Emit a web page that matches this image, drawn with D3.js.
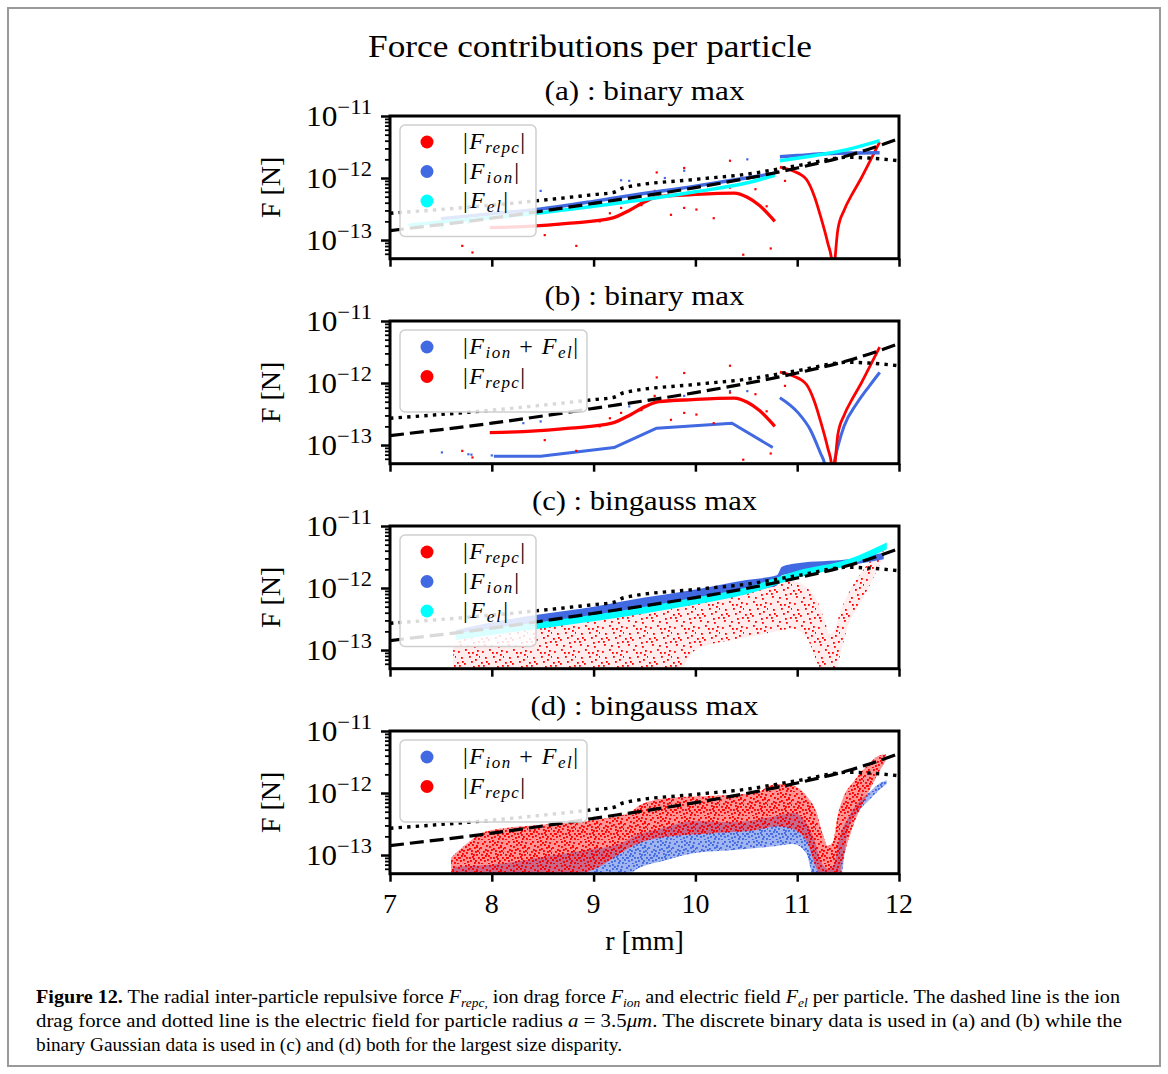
<!DOCTYPE html>
<html><head><meta charset="utf-8">
<script src="https://cdn.jsdelivr.net/npm/d3@7"></script>
<style>body{margin:0;background:#fff}svg{display:block}</style>
</head><body>
<svg id="c" width="1168" height="1074"></svg>
<script>
// ---------------- DATA ----------------
const figTitle = "Force contributions per particle";
const panelTitles = ["(a) : binary max", "(b) : binary max", "(c) : bingauss max", "(d) : bingauss max"];
const xTicks = [7, 8, 9, 10, 11, 12];
const yMajor = [1e-11, 1e-12, 1e-13];
const yMajorExp = ["\u221211", "\u221212", "\u221213"];
const yMinor = [6e-14, 7e-14, 8e-14, 9e-14, 2e-13, 3e-13, 4e-13, 5e-13, 6e-13, 7e-13, 8e-13, 9e-13,
                2e-12, 3e-12, 4e-12, 5e-12, 6e-12, 7e-12, 8e-12, 9e-12];

// theory lines (all panels)
const dashR = [7, 8, 9, 10, 11, 11.5, 12];
const dashF = [1.42e-13, 2.25e-13, 3.9e-13, 7.0e-13, 1.45e-12, 2.3e-12, 4.3e-12];
const dotR = [7, 8, 9, 9.2, 9.3, 10, 10.5, 11, 11.5, 11.7, 12];
const dotF = [2.7e-13, 3.65e-13, 5.4e-13, 5.9e-13, 7.0e-13, 9.5e-13, 1.15e-12, 1.58e-12, 2.16e-12, 2.1e-12, 1.9e-12];

// |F_repc| (binary, panels a & b)
const repcR1 = [7.98, 8.31, 8.77, 9.18, 9.35, 9.51, 9.64, 9.97, 10.38, 10.51, 10.63, 10.78];
const repcF1 = [1.58e-13, 1.65e-13, 1.87e-13, 2.25e-13, 3.0e-13, 4.2e-13, 5.0e-13, 5.4e-13, 5.7e-13, 4.9e-13, 3.6e-13, 2.0e-13];
const repcR2 = [10.83, 10.96, 11.09, 11.17, 11.23, 11.30, 11.34, 11.355, 11.37, 11.40, 11.46, 11.54, 11.63, 11.71, 11.81];
const repcF2 = [1.5e-12, 1.3e-12, 9.5e-13, 5.0e-13, 2.4e-13, 9e-14, 4.5e-14, 2e-14, 4.5e-14, 1.5e-13, 3.0e-13, 5.5e-13, 1.0e-12, 1.8e-12, 3.8e-12];
const repcOutR = [7.71, 7.81, 8.11, 8.52, 8.83, 9.06, 9.16, 9.27, 9.47, 9.60, 9.62, 9.76, 9.89, 9.89, 10.01, 10.18, 10.34, 10.34, 10.47, 10.59, 10.70, 10.74, 10.88];
const repcOutF = [8.05e-14, 6.3e-14, 1.6e-13, 1.2e-13, 8.05e-14, 2.0e-13, 2.7e-13, 3.3e-13, 3.65e-13, 6.2e-13, 1.23e-12, 2.55e-13, 3.3e-13, 1.45e-12, 3.1e-13, 2.25e-13, 7.0e-13, 1.9e-12, 5.8e-14, 6.6e-13, 3.5e-13, 7.3e-14, 9.0e-13];

// |F_ion| and |F_el| (binary, panel a)
const ionR1 = [7.5, 8.0, 8.44, 9.0, 9.35, 10.0, 10.5, 10.78];
const ionF1 = [2.2e-13, 2.65e-13, 3.1e-13, 4.2e-13, 5.2e-13, 7.4e-13, 1.0e-12, 1.18e-12];
const ionR2 = [10.83, 11.0, 11.4, 11.81];
const ionF2 = [2.2e-12, 2.3e-12, 2.5e-12, 2.55e-12];
const ionOutR = [8.48, 9.27, 9.35, 9.70, 9.89, 10.51];
const ionOutF = [6.2e-13, 9.2e-13, 9e-13, 1.0e-12, 1.31e-12, 2.0e-12];
const elR1 = [7.2, 7.5, 8.0, 8.44, 9.0, 9.5, 10.0, 10.5, 10.78];
const elF1 = [1.75e-13, 1.95e-13, 2.3e-13, 2.7e-13, 3.5e-13, 4.5e-13, 6.0e-13, 8.3e-13, 1.11e-12];
const elR2 = [10.83, 11.2, 11.5, 11.81];
const elF2 = [1.9e-12, 2.35e-12, 2.9e-12, 4.0e-12];
const elOutR = [7.19, 7.51, 7.77];
const elOutF = [1.75e-13, 1.6e-13, 1.87e-13];

// |F_ion + F_el| (binary, panel b)
const sumR1 = [8.02, 8.48, 9.20, 9.62, 10.36, 10.76];
const sumF1 = [6.6e-14, 6.6e-14, 9.1e-14, 1.87e-13, 2.25e-13, 9.1e-14];
const sumR2 = [10.83, 11.01, 11.13, 11.23, 11.27, 11.31, 11.36, 11.40, 11.46, 11.59, 11.71, 11.81];
const sumF2 = [5.8e-13, 3.3e-13, 1.75e-13, 7.3e-14, 5e-14, 2e-14, 5e-14, 9.5e-14, 2.0e-13, 4.8e-13, 9e-13, 1.48e-12];
const sumOutR = [7.51, 7.77, 7.80, 8.00, 8.31, 8.48, 9.35, 9.89, 10.34, 10.51];
const sumOutF = [7.6e-14, 7.1e-14, 7.0e-14, 6.8e-14, 2.25e-13, 2.4e-13, 4.2e-13, 6.2e-13, 7.4e-13, 7.4e-13];

// bingauss clouds (panel c): r, lower edge, upper edge
const cElR  = [7.65, 8.0, 8.5, 9.0, 9.5, 10.0, 10.5, 11.0, 11.5, 11.88];
const cElLo = [1.45e-13, 1.75e-13, 2.25e-13, 2.9e-13, 3.9e-13, 5.4e-13, 7.9e-13, 1.45e-12, 2.3e-12, 4.2e-12];
const cElHi = [1.85e-13, 2.25e-13, 2.85e-13, 3.7e-13, 5.0e-13, 7.0e-13, 1.02e-12, 1.9e-12, 2.9e-12, 5.4e-12];
const cIonR  = [7.65, 8.0, 8.5, 9.0, 9.5, 10.0, 10.5, 10.8, 10.85, 11.0, 11.5, 11.85];
const cIonLo = [1.6e-13, 2.0e-13, 2.6e-13, 3.4e-13, 4.7e-13, 6.6e-13, 9.0e-13, 1.1e-12, 1.6e-12, 1.8e-12, 2.3e-12, 2.9e-12];
const cIonHi = [2.1e-13, 2.8e-13, 3.8e-13, 5.0e-13, 7.0e-13, 9.5e-13, 1.35e-12, 1.6e-12, 2.2e-12, 2.5e-12, 2.9e-12, 3.7e-12];
const cRepcR  = [7.62, 7.8, 8.0, 8.5, 9.0, 9.5, 9.8, 10.0, 10.3, 10.6, 10.8, 10.95, 11.1, 11.2, 11.27, 11.32, 11.37, 11.42, 11.5, 11.6, 11.7, 11.8, 11.85];
const cRepcLo = [4e-14, 4e-14, 4e-14, 4e-14, 4e-14, 4e-14, 4e-14, 1.0e-13, 1.4e-13, 1.7e-13, 2.0e-13, 2.2e-13, 1.5e-13, 6e-14, 4e-14, 4e-14, 4e-14, 8e-14, 2.5e-13, 5e-13, 1.0e-12, 2.2e-12, 3.2e-12];
const cRepcHi = [1.2e-13, 1.7e-13, 1.9e-13, 2.5e-13, 3.1e-13, 4.3e-13, 5.4e-13, 6.2e-13, 7.0e-13, 9.0e-13, 1.2e-12, 1.3e-12, 1.0e-12, 6.0e-13, 3.0e-13, 1.8e-13, 2.2e-13, 4.0e-13, 8.0e-13, 1.5e-12, 2.5e-12, 3.6e-12, 4.0e-12];

// bingauss clouds (panel d)
const dSumR  = [7.62, 8.11, 8.52, 8.93, 9.27, 9.43, 9.68, 9.97, 10.38, 10.80, 10.96, 11.09, 11.17, 11.23, 11.30, 11.36, 11.42, 11.5, 11.6, 11.7, 11.8, 11.88];
const dSumLo = [4e-14, 4e-14, 4e-14, 4e-14, 4e-14, 6e-14, 8e-14, 1.06e-13, 1.2e-13, 1.4e-13, 1.5e-13, 1.06e-13, 4e-14, 4e-14, 4e-14, 4e-14, 4e-14, 2.5e-13, 5.0e-13, 7.5e-13, 1.1e-12, 1.4e-12];
const dSumHi = [6.5e-14, 7.3e-14, 9.4e-14, 1.2e-13, 1.55e-13, 2.1e-13, 2.7e-13, 3.5e-13, 3.4e-13, 4.3e-13, 4.8e-13, 3.3e-13, 1.75e-13, 8e-14, 6e-14, 7e-14, 2.0e-13, 4.0e-13, 7.0e-13, 1.0e-12, 1.4e-12, 1.6e-12];
const dRepcR  = [7.6, 7.75, 7.94, 8.52, 9.02, 9.35, 9.47, 9.76, 10.18, 10.59, 10.80, 10.96, 11.09, 11.19, 11.25, 11.30, 11.35, 11.40, 11.46, 11.55, 11.63, 11.71, 11.79, 11.87];
const dRepcLo = [4e-14, 4e-14, 4e-14, 4e-14, 6e-14, 1.3e-13, 1.6e-13, 2.0e-13, 2.25e-13, 2.5e-13, 2.9e-13, 2.6e-13, 1.7e-13, 6e-14, 4e-14, 4e-14, 4e-14, 4e-14, 1.0e-13, 3.0e-13, 6.0e-13, 1.1e-12, 2.0e-12, 3.3e-12];
const dRepcHi = [9e-14, 1.5e-13, 2.4e-13, 3.1e-13, 3.7e-13, 4.8e-13, 6.6e-13, 8.4e-13, 9.0e-13, 1.02e-12, 1.4e-12, 1.31e-12, 9.0e-13, 4.8e-13, 2.2e-13, 1.4e-13, 1.6e-13, 4.5e-13, 9e-13, 1.5e-12, 2.2e-12, 3.0e-12, 3.9e-12, 4.2e-12];

// legends
const legendA = [["red", [["|"], ["F", 1], ["repc", 1, 1], ["|"]]], ["royalblue", [["|"], ["F", 1], ["ion", 1, 1], ["|"]]], ["cyan", [["|"], ["F", 1], ["el", 1, 1], ["|"]]]];
const legendB = [["royalblue", [["|"], ["F", 1], ["ion", 1, 1], [" + "], ["F", 1], ["el", 1, 1], ["|"]]], ["red", [["|"], ["F", 1], ["repc", 1, 1], ["|"]]]];

const captionLines = [
  [["Figure 12.", 0, 0, 1], [" The radial inter-particle repulsive force "], ["F", 1], ["repc,", 1, 1], [" ion drag force "], ["F", 1], ["ion", 1, 1], [" and electric field "], ["F", 1], ["el", 1, 1], [" per particle. The dashed line is the ion"]],
  [["drag force and dotted line is the electric field for particle radius "], ["a", 1], [" = 3.5"], ["\u03bcm", 1], [". The discrete binary data is used in (a) and (b) while the"]],
  [["binary Gaussian data is used in (c) and (d) both for the largest size disparity."]]
];

// ---------------- DRAW ----------------
const svg = d3.select("#c");
const SERIF = "'Liberation Serif', 'Times New Roman', serif";
const RED = "#ff0000", BLUE = "royalblue", CYAN = "#00ffff";
const X0 = 390, X1 = 899, PH = 142.7;
const tops = [116, 321, 526, 731];
const titleW = [200, 200, 225, 228];
const legWA = [62, 56, 45], legWB = [115, 62];
const x = d3.scaleLinear().domain([7, 12]).range([X0, X1]);

svg.append("rect").attr("x", 8).attr("y", 8).attr("width", 1152).attr("height", 1058)
  .attr("fill", "#fff").attr("stroke", "#9a9a9a").attr("stroke-width", 2);

// dot patterns used to render the scattered point clouds
const defs = svg.append("defs");
const sparse = [[2,3],[9,1],[16,4],[21,2],[5,9],[13,8],[19,11],[1,14],[8,15],[15,13],[22,17],[4,20],[11,21],[18,22],[12,4],[6,13],[17,18],[23,8],[3,17],[20,6]];
const dense = sparse.concat([[6,5],[12,0],[18,7],[23,12],[3,11],[10,12],[16,16],[20,14],[7,19],[13,17],[1,23],[22,22],[9,6],[14,20],[0,7],[17,1],[4,1],[20,5],[11,9],[2,17],[15,10],[8,23],[19,20],[5,15],[14,2],[21,10],[7,10],[10,17],[0,19],[17,14]]);
function makePattern(id, color, pts, bgOp, s) {
  const p = defs.append("pattern").attr("id", id).attr("patternUnits", "userSpaceOnUse").attr("width", 24).attr("height", 24);
  p.append("rect").attr("width", 24).attr("height", 24).attr("fill", color).attr("opacity", bgOp);
  p.selectAll("rect.d").data(pts).join("rect").attr("class", "d")
    .attr("x", d => d[0]).attr("y", d => d[1]).attr("width", s).attr("height", s).attr("fill", color);
}
makePattern("redSparse", RED, sparse, 0.07, 1.8);
makePattern("redDense", RED, dense, 0.42, 1.9);
makePattern("blueDense", BLUE, dense, 0.5, 1.9);

function zip(a, b) { return a.map((v, i) => [v, b[i]]); }
function zip3(a, b, c) { return a.map((v, i) => [v, b[i], c[i]]); }

function mathText(sel, parts, size, subSize, subShift) {
  let shifted = false;
  parts.forEach(p => {
    const t = sel.append("tspan").text(p[0]);
    if (p[1]) t.attr("font-style", "italic");
    if (p[3]) t.attr("font-weight", "bold");
    if (p[2]) {
      t.attr("font-size", subSize);
      if (!shifted) { t.attr("dy", subShift); shifted = true; }
    } else {
      t.attr("font-size", size);
      if (shifted) { t.attr("dy", -subShift); shifted = false; }
    }
  });
}

svg.append("text").attr("x", 590).attr("y", 57).attr("text-anchor", "middle")
  .attr("font-family", SERIF).attr("font-size", 31).attr("textLength", 444).attr("lengthAdjust", "spacingAndGlyphs")
  .text(figTitle);

tops.forEach((top, pi) => {
  const y = d3.scaleLog().domain([5e-14, 1e-11]).range([top + PH, top]);
  const g = svg.append("g");
  const cid = "clip" + pi;
  defs.append("clipPath").attr("id", cid).append("rect").attr("x", X0).attr("y", top).attr("width", X1 - X0).attr("height", PH);
  const plot = g.append("g").attr("clip-path", `url(#${cid})`);

  const line = d3.line().x(d => x(d[0])).y(d => y(d[1])).curve(d3.curveMonotoneX);
  const lin = d3.line().x(d => x(d[0])).y(d => y(d[1]));
  const area = d3.area().x(d => x(d[0])).y0(d => y(d[1])).y1(d => y(d[2])).curve(d3.curveMonotoneX);
  const drawLine = (r, f, color, w, gen) => plot.append("path").datum(zip(r, f)).attr("d", gen || line)
      .attr("fill", "none").attr("stroke", color).attr("stroke-width", w).attr("stroke-linejoin", "round");
  const drawPts = (r, f, color, s) => plot.append("g").selectAll("rect").data(zip(r, f)).join("rect")
      .attr("x", d => x(d[0]) - s / 2).attr("y", d => y(d[1]) - s / 2).attr("width", s).attr("height", s).attr("fill", color);
  const drawBand = (r, lo, hi, fill) => plot.append("path").datum(zip3(r, lo, hi)).attr("d", area).attr("fill", fill);

  if (pi === 0) {
    drawLine(repcR1, repcF1, RED, 3.3); drawLine(repcR2, repcF2, RED, 2.8); drawPts(repcOutR, repcOutF, RED, 2.2);
    drawLine(ionR1, ionF1, BLUE, 3.5); drawLine(ionR2, ionF2, BLUE, 3.5); drawPts(ionOutR, ionOutF, BLUE, 2.2);
    drawLine(elR1, elF1, CYAN, 3.5); drawLine(elR2, elF2, CYAN, 3.5); drawPts(elOutR, elOutF, CYAN, 2.2);
  } else if (pi === 1) {
    drawLine(sumR1, sumF1, BLUE, 3, lin); drawLine(sumR2, sumF2, BLUE, 3); drawPts(sumOutR, sumOutF, BLUE, 2.2);
    drawLine(repcR1, repcF1, RED, 3.3); drawLine(repcR2, repcF2, RED, 2.8); drawPts(repcOutR, repcOutF, RED, 2.2);
  } else if (pi === 2) {
    drawBand(cRepcR, cRepcLo, cRepcHi, "url(#redSparse)");
    drawBand(cIonR, cIonLo, cIonHi, BLUE);
    drawBand(cElR, cElLo, cElHi, CYAN);
  } else {
    drawBand(dSumR, dSumLo, dSumHi, "url(#blueDense)");
    drawBand(dRepcR, dRepcLo, dRepcHi, "url(#redDense)");
  }
  drawLine(dashR, dashF, "#000", 3.2).attr("stroke-dasharray", "14,6").attr("stroke-linejoin", "miter");
  drawLine(dotR, dotF, "#000", 3.4).attr("stroke-dasharray", "3.4,5.2").attr("stroke-linejoin", "miter");

  const bx = g.append("g").attr("transform", `translate(0,${top + PH})`)
    .call(d3.axisBottom(x).tickValues(xTicks).tickSize(8).tickFormat(""));
  const ly = g.append("g").attr("transform", `translate(${X0},0)`)
    .call(d3.axisLeft(y).tickValues(yMinor).tickSize(5).tickFormat(""));
  const my = g.append("g").attr("transform", `translate(${X0},0)`)
    .call(d3.axisLeft(y).tickValues(yMajor).tickSize(9).tickFormat(""));
  [bx, ly, my].forEach(a => a.select(".domain").remove());
  bx.selectAll("line").attr("stroke-width", 2.5);
  my.selectAll("line").attr("stroke-width", 2.5);
  ly.selectAll("line").attr("stroke-width", 1.8);

  yMajor.forEach((v, i) => {
    const t = g.append("text").attr("x", 372).attr("y", y(v) + 10).attr("text-anchor", "end")
      .attr("font-family", SERIF).attr("font-size", 29).attr("textLength", 66).attr("lengthAdjust", "spacingAndGlyphs");
    t.append("tspan").text("10");
    t.append("tspan").attr("font-size", 21).attr("dy", -12).text(yMajorExp[i]);
  });
  if (pi === 3) {
    xTicks.forEach(v => g.append("text").attr("x", x(v)).attr("y", top + PH + 39).attr("text-anchor", "middle")
      .attr("font-family", SERIF).attr("font-size", 28).text(v));
    g.append("text").attr("x", (X0 + X1) / 2).attr("y", 950).attr("text-anchor", "middle")
      .attr("font-family", SERIF).attr("font-size", 28).text("r [mm]");
  }
  g.append("text").attr("transform", `translate(280,${top + PH / 2}) rotate(-90)`).attr("text-anchor", "middle")
    .attr("font-family", SERIF).attr("font-size", 28).text("F [N]");
  g.append("text").attr("x", (X0 + X1) / 2).attr("y", top - 16).attr("text-anchor", "middle")
    .attr("font-family", SERIF).attr("font-size", 28).attr("textLength", titleW[pi]).attr("lengthAdjust", "spacingAndGlyphs")
    .text(panelTitles[pi]);

  g.append("rect").attr("x", X0).attr("y", top).attr("width", X1 - X0).attr("height", PH)
    .attr("fill", "none").attr("stroke", "#000").attr("stroke-width", 3);

  const isA = (pi % 2 === 0);
  const items = isA ? legendA : legendB;
  const widths = isA ? legWA : legWB;
  const lw = isA ? 136 : 187;
  const lg = g.append("g");
  lg.append("rect").attr("x", 400).attr("y", top + 9).attr("width", lw).attr("height", 28 + items.length * 29.5 - 5)
    .attr("rx", 5).attr("fill", "#fff").attr("fill-opacity", 0.85).attr("stroke", "#cfcfcf").attr("stroke-width", 1.5);
  items.forEach((it, k) => {
    const cy = top + 26 + k * 29.5;
    lg.append("circle").attr("cx", 427).attr("cy", cy).attr("r", 6.5).attr("fill", it[0]);
    const t = lg.append("text").attr("x", 463).attr("y", cy + 7).attr("font-family", SERIF).attr("font-size", 24)
      .attr("textLength", widths[k]).attr("lengthAdjust", "spacing");
    mathText(t, it[1], 24, 17, 4);
  });
});

const capY = [1003, 1027, 1051];
const capW = [1084, 1086, 586];
captionLines.forEach((parts, i) => {
  const t = svg.append("text").attr("x", 36).attr("y", capY[i]).attr("font-family", SERIF).attr("font-size", 18)
    .attr("textLength", capW[i]).attr("lengthAdjust", "spacingAndGlyphs");
  mathText(t, parts, 18, 12, 4);
});
</script>
</body></html>
